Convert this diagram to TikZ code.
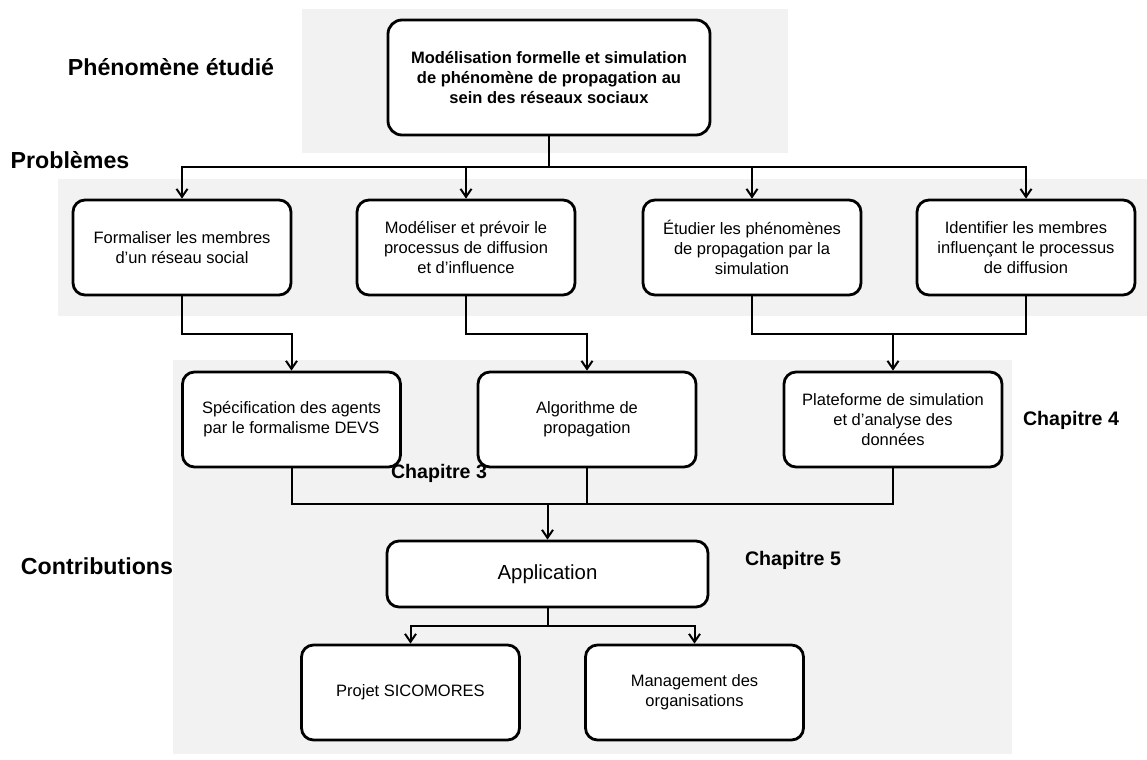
\documentclass[tikz,border=0pt]{standalone}
\usepackage{fontspec}
\setmainfont{Liberation Sans}
\usetikzlibrary{arrows.meta}
\definecolor{panelgray}{HTML}{F2F2F2}

\begin{document}
\begin{tikzpicture}[x=0.5pt, y=-0.5pt,
    box/.style={draw=black, fill=white, line width=1.4pt, rounded corners=6pt,
        align=center, inner sep=2pt, minimum width=109pt, minimum height=47.5pt,
        font=\fontsize{8.25}{10}\selectfont},
    title/.style={font=\fontsize{11.6}{14}\selectfont\bfseries},
    chap/.style={font=\fontsize{9.8}{12}\selectfont\bfseries},
    link/.style={line width=1pt},
    arr/.style={link, -{Straight Barb[length=4pt, width=5.5pt]}}]
    \useasboundingbox (0,0) rectangle (1147,760);
    % panels
    \fill[panelgray] (302,9) rectangle (788,153);
    \fill[panelgray] (58,179) rectangle (1147,316);
    \fill[panelgray] (173,360) rectangle (1012,754);
    % row titles
    \node[title] (phen) at (171,67) {Phénomène étudié};
    \node[title] (prob) at (70,160) {Problèmes};
    \node[title] (contrib) at (97,566) {Contributions};
    % phenomenon
    \node[box, font=\fontsize{8.25}{10}\selectfont\bfseries, minimum width=161pt,
        minimum height=57.5pt, rounded corners=7pt] (top) at (549,77.5)
        {Modélisation formelle et simulation\\de phénomène de propagation au\\sein des réseaux sociaux};
    % problems
    \node[box] (p1) at (182,247.5) {Formaliser les membres\\d’un réseau social};
    \node[box] (p2) at (466,247.5) {Modéliser et prévoir le\\processus de diffusion\\et d’influence};
    \node[box] (p3) at (752,247.5) {Étudier les phénomènes\\de propagation par la\\simulation};
    \node[box] (p4) at (1026,247.5) {Identifier les membres\\influençant le processus\\de diffusion};
    % contributions
    \node[box] (c1) at (291.5,419.5) {Spécification des agents\\par le formalisme DEVS};
    \node[box] (c2) at (587,419.5) {Algorithme de\\propagation};
    \node[box] (c3) at (893,419.5) {Plateforme de simulation\\et d’analyse des\\données};
    \node[box, minimum width=160.5pt, minimum height=33pt,
        font=\fontsize{10.2}{12}\selectfont] (app) at (547.5,574) {Application};
    \node[box] (d1) at (410.5,692.5) {Projet SICOMORES};
    \node[box] (d2) at (694.5,692.5) {Management des\\organisations};
    % chapters
    \node[chap] (ch3) at (439,473) {Chapitre 3};
    \node[chap] (ch4) at (1071,420) {Chapitre 4};
    \node[chap] (ch5) at (793,560) {Chapitre 5};
    % links
    \coordinate (jt) at (549,167);
    \coordinate (m34) at (893,333);
    \coordinate (jc) at (547.5,503);
    \coordinate (ja) at (547.5,626);
    \draw[link, line width=1.4pt] (top.south) -- (jt);
    \foreach \p in {p1,p2,p3,p4}
        \draw[arr] (jt) -| (\p.north);
    \draw[arr] (p1.south) -- ++(0,38) -| (c1.north);
    \draw[arr] (p2.south) -- ++(0,38) -| (c2.north);
    \draw[link] (p3.south) -- ++(0,38) -| (p4.south);
    \draw[arr] (m34) -- (c3.north);
    \draw[link] (c1.south) -- ++(0,36) -| (c3.south);
    \draw[link] (c2.south) -- ++(0,36);
    \draw[arr] (jc) -- (app.north);
    \draw[link] (app.south) -- (ja);
    \draw[arr] (ja) -| (d1.north);
    \draw[arr] (ja) -| (d2.north);
\end{tikzpicture}
\end{document}
